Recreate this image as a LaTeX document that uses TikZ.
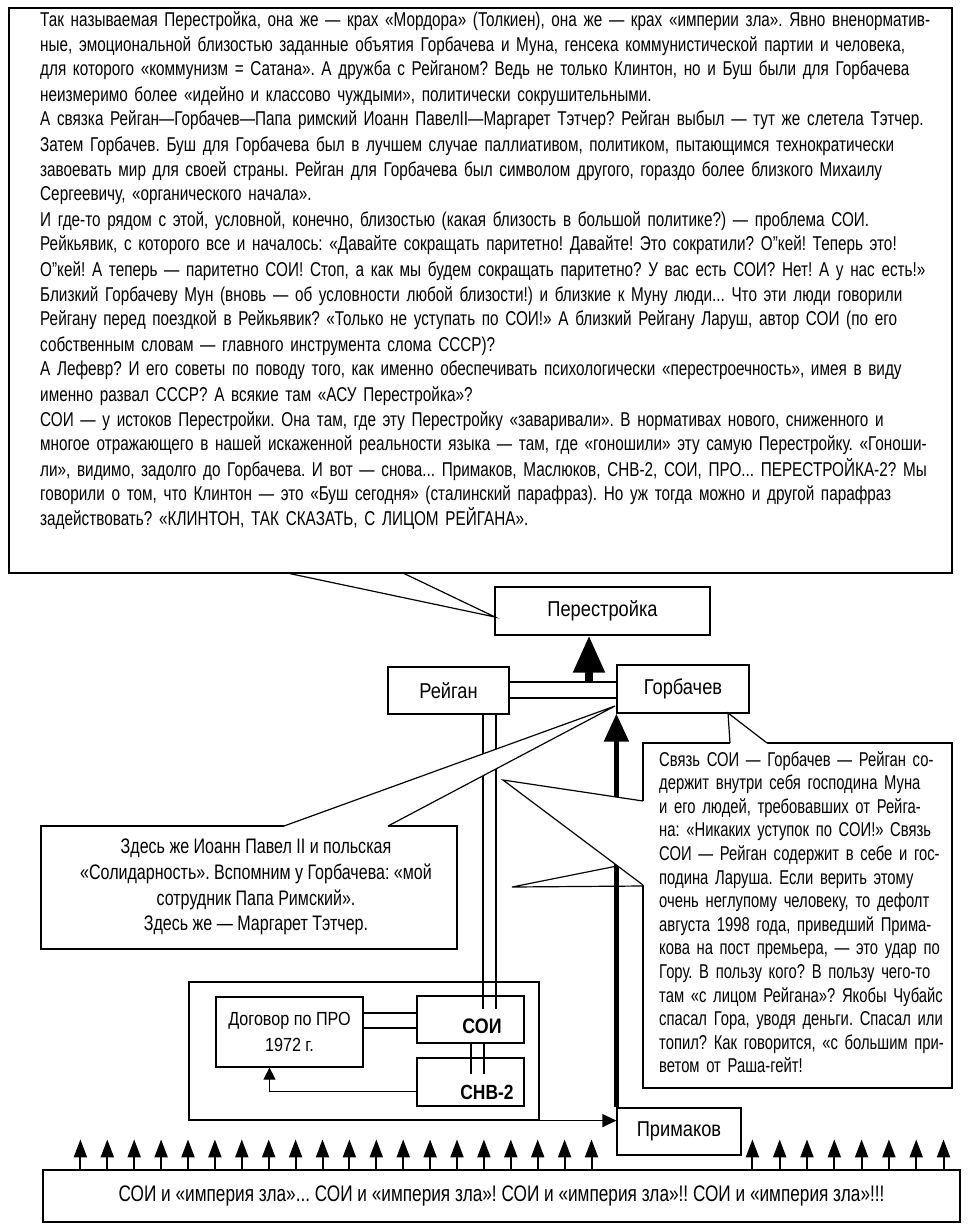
\documentclass[tikz,border=0pt]{standalone}
\usepackage{fontspec}
\setmainfont{Liberation Sans}[FakeStretch=0.85]
\newfontfamily\condA{Liberation Sans}[FakeStretch=0.765]
\newfontfamily\condB{Liberation Sans}[FakeStretch=0.74]
\usetikzlibrary{arrows.meta,calc}
\newcommand\JF[1]{\hbox to\linewidth{#1}}
\newcommand\JL[1]{\par\hbox to\linewidth{#1}}
\newcommand\LL[1]{\par\hbox{#1}}
\begin{document}
\frenchspacing
\begin{tikzpicture}[x=1pt,y=-1pt,
  box/.style={draw,line width=1.2pt,fill=white,inner sep=0pt},
  ln/.style={line width=1.2pt},
  lbl/.style={font=\fontsize{21.5}{24}\selectfont},
  txt/.style={inner sep=0pt,anchor=base west},
  bigarrow/.style={line width=8pt,-{Triangle[width=30pt,length=37pt]}},
  thickarrow/.style={line width=5pt,-{Triangle[width=24pt,length=28pt]}},
  smallarrow/.style={line width=2pt,-{Triangle[width=13pt,length=18pt]}},
  tinyarrow/.style={line width=1.2pt,-{Triangle[width=12pt,length=12pt]}},
  midarrow/.style={line width=1.2pt,-{Triangle[width=13pt,length=14pt]}},
  tailfill/.style={fill=white,draw=none}
]
\useasboundingbox (0,0) rectangle (978,1226);
\fill[white] (0,0) rectangle (978,1226);

% ---------- boxes ----------
\node[box,line width=1.4pt,minimum width=943pt,minimum height=565pt] (intro) at (480.5,290.5) {};
\node[txt,text width=890pt,font=\condA\fontsize{20}{25}\selectfont] (introT) at (40,26) {%
\JF{Так называемая Перестройка, она же — крах «Мордора» (Толкиен), она же — крах «империи зла». Явно вненорматив-}
\JL{ные, эмоциональной близостью заданные объятия Горбачева и Муна, генсека коммунистической партии и человека,}
\JL{для которого «коммунизм = Сатана». А дружба с Рейганом? Ведь не только Клинтон, но и Буш были для Горбачева}
\LL{неизмеримо более «идейно и классово чуждыми», политически сокрушительными.}
\JL{А связка Рейган—Горбачев—Папа римский Иоанн ПавелII—Маргарет Тэтчер? Рейган выбыл — тут же слетела Тэтчер.}
\JL{Затем Горбачев. Буш для Горбачева был в лучшем случае паллиативом, политиком, пытающимся технократически}
\JL{завоевать мир для своей страны. Рейган для Горбачева был символом другого, гораздо более близкого Михаилу}
\LL{Сергеевичу, «органического начала».}
\JL{И где-то рядом с этой, условной, конечно, близостью (какая близость в большой политике?) — проблема СОИ.}
\JL{Рейкьявик, с которого все и началось: «Давайте сокращать паритетно! Давайте! Это сократили? О”кей! Теперь это!}
\JL{О”кей! А теперь — паритетно СОИ! Стоп, а как мы будем сокращать паритетно? У вас есть СОИ? Нет! А у нас есть!»}
\JL{Близкий Горбачеву Мун (вновь — об условности любой близости!) и близкие к Муну люди... Что эти люди говорили}
\JL{Рейгану перед поездкой в Рейкьявик? «Только не уступать по СОИ!» А близкий Рейгану Ларуш, автор СОИ (по его}
\LL{собственным словам — главного инструмента слома СССР)?}
\JL{А Лефевр? И его советы по поводу того, как именно обеспечивать психологически «перестроечность», имея в виду}
\LL{именно развал СССР? А всякие там «АСУ Перестройка»?}
\JL{СОИ — у истоков Перестройки. Она там, где эту Перестройку «заваривали». В нормативах нового, сниженного и}
\JL{многое отражающего в нашей искаженной реальности языка — там, где «гоношили» эту самую Перестройку. «Гоноши-}
\JL{ли», видимо, задолго до Горбачева. И вот — снова... Примаков, Маслюков, СНВ-2, СОИ, ПРО... ПЕРЕСТРОЙКА-2? Мы}
\JL{говорили о том, что Клинтон — это «Буш сегодня» (сталинский парафраз). Но уж тогда можно и другой парафраз}
\LL{задействовать? «КЛИНТОН, ТАК СКАЗАТЬ, С ЛИЦОМ РЕЙГАНА».}};

\node[box,lbl,minimum width=215pt,minimum height=48pt] (per) at (602.5,611) {Перестройка};
\node[box,lbl,minimum width=121pt,minimum height=47pt] (rei) at (448.5,690.5) {Рейган};
\node[box,lbl,minimum width=132pt,minimum height=48pt] (gor) at (683,689) {Горбачев};

\node[box,minimum width=416pt,minimum height=123pt] (cL) at (249,887.5) {};
\node[inner sep=0pt,align=center,font=\condA\fontsize{21}{25.7}\selectfont] (cLT) at (256,887) {Здесь же Иоанн Павел II и польская\\«Солидарность». Вспомним у Горбачева: «мой\\сотрудник Папа Римский».\\Здесь же — Маргарет Тэтчер.};

\node[box,minimum width=309pt,minimum height=345pt] (cR) at (797.5,915.5) {};
\node[txt,text width=283pt,font=\condB\fontsize{20}{23.6}\selectfont] (cRT) at (659,766) {%
\JF{Связь СОИ — Горбачев — Рейган со-}
\JL{держит внутри себя господина Муна}
\JL{и его людей, требовавших от Рейга-}
\JL{на: «Никаких уступок по СОИ!» Связь}
\JL{СОИ — Рейган содержит в себе и гос-}
\JL{подина Ларуша. Если верить этому}
\JL{очень неглупому человеку, то дефолт}
\JL{августа 1998 года, приведший Прима-}
\JL{кова на пост премьера, — это удар по}
\JL{Гору. В пользу кого? В пользу чего-то}
\JL{там «с лицом Рейгана»? Якобы Чубайс}
\JL{спасал Гора, уводя деньги. Спасал или}
\JL{топил? Как говорится, «с большим при-}
\LL{ветом от Раша-гейт!}};

\node[box,minimum width=350pt,minimum height=138pt] (grp) at (364,1051) {};
\node[box,align=center,font=\fontsize{19}{26}\selectfont,minimum width=147pt,minimum height=70pt] (pro) at (289.5,1032) {Договор по ПРО\\1972 г.};
\node[box,minimum width=107pt,minimum height=47pt] (soi) at (470.5,1019.5) {};
\node[inner sep=0pt,font=\fontsize{21}{22}\selectfont\bfseries] (soiT) at (482,1026) {СОИ};
\node[box,minimum width=107pt,minimum height=48pt] (snv) at (470.5,1082) {};
\node[inner sep=0pt,font=\fontsize{20.5}{22}\selectfont\bfseries] (snvT) at (487,1092) {СНВ-2};

\node[box,lbl,minimum width=124pt,minimum height=47pt] (pri) at (679,1131.5) {Примаков};
\node[box,font=\condA\fontsize{22.5}{24}\selectfont,minimum width=917pt,minimum height=52pt] (bot) at (501.5,1196) {СОИ и «империя зла»... СОИ и «империя зла»! СОИ и «империя зла»!! СОИ и «империя зла»!!!};

% ---------- coordinates ----------
\coordinate (link) at (589,682);
\coordinate (tA) at (287,573);
\coordinate (tB) at (403,573);
\coordinate (tTip) at (495,617);
\coordinate (lA) at (284,826);
\coordinate (lB) at (388,826);
\coordinate (lTip) at (615,706);
\coordinate (r1A) at (730,743);
\coordinate (r1B) at (767,743);
\coordinate (r1Tip) at (728,713);
\coordinate (r2A) at (643,801);
\coordinate (r2B) at (643,885);
\coordinate (r2Tip) at (503,780);
\coordinate (r3A) at (617,866);
\coordinate (r3B) at (643,886);
\coordinate (r3Tip) at (512,887);

% ---------- connectors ----------
\draw[ln] (rei.east |- 0,682) -- (gor.west |- 0,682);
\draw[ln] (rei.east |- 0,698) -- (gor.west |- 0,698);
\draw[bigarrow] (link) -- (link |- per.south);

\draw[ln] (rei.south -| 483,0) -- ($(soi.north -| 483,0)+(0,14)$);
\draw[ln] (rei.south -| 496,0) -- ($(soi.north -| 496,0)+(0,14)$);
\draw[ln] (pro.east |- 0,1013) -- (soi.west |- 0,1013);
\draw[ln] (pro.east |- 0,1028) -- (soi.west |- 0,1028);
\draw[ln] (soi.south -| 471,0) -- ($(snv.north -| 471,0)+(0,17)$);
\draw[ln] (soi.south -| 484,0) -- ($(snv.north -| 484,0)+(0,17)$);
\draw[tinyarrow] ($(snv.south west)+(0,-15)$) -| ($(pro.south)+(-20,0)$);
\draw[midarrow] (grp.south east) -- (grp.south east -| pri.west);

\foreach \i in {0,...,19}
  \draw[smallarrow] ($(bot.north west)+({38+26.9*\i},0)$) -- ++(0,-30);
\foreach \i in {0,...,7}
  \draw[smallarrow] ($(bot.north west)+({710+27.3*\i},0)$) -- ++(0,-30);

% ---------- callout tails ----------
\draw[ln] (tA) -- (tTip) -- (tB);

\fill[tailfill] (lA) -- (lTip) -- (lB) -- ++(0,3) -- ($(lA)+(0,3)$) -- cycle;
\draw[ln] (lA) -- (lTip) -- (lB);

\draw[thickarrow] (pri.north west) -- (gor.south west);

\fill[tailfill] (r1A) -- (r1Tip) -- (r1B) -- ++(0,3) -- ($(r1A)+(0,3)$) -- cycle;
\draw[ln] (r1A) -- (r1Tip) -- (r1B);
\fill[tailfill] (r2A) -- (r2Tip) -- (r2B) -- ++(4,0) -- ($(r2A)+(4,0)$) -- cycle;
\draw[ln] (r2A) -- (r2Tip) -- (r2B);
\draw[ln] (r3A) -- (r3Tip) -- (r3B);
\end{tikzpicture}
\end{document}
